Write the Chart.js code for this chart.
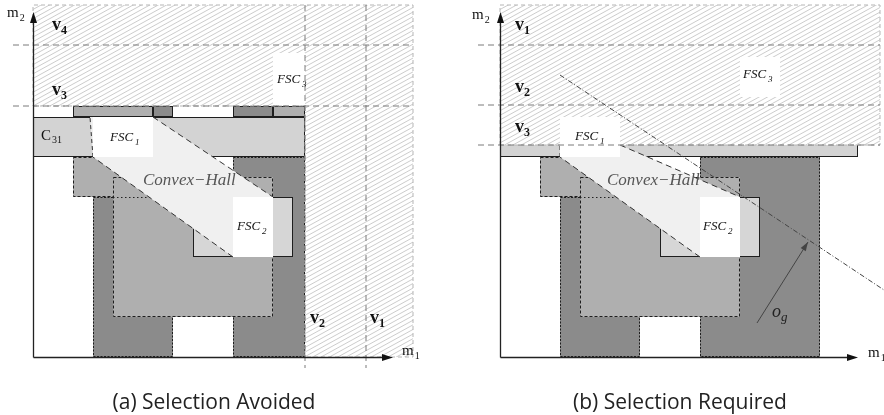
<!DOCTYPE html>
<html><head><meta charset="utf-8">
<script src="https://cdn.jsdelivr.net/npm/chart.js@4.4.0/dist/chart.umd.min.js"></script>
<style>
html,body{margin:0;padding:0;background:#fff;}
#wrap{position:relative;width:884px;height:415px;overflow:hidden;}
.panel{position:absolute;top:0;width:442px;height:415px;}
#pa{left:0}#pb{left:442px}
</style></head><body>
<div id="wrap"><div class="panel" id="pa"><canvas id="ca" width="442" height="415"></canvas></div><div class="panel" id="pb"><canvas id="cb" width="442" height="415"></canvas></div></div>
<script>
// ---------- data, in m1 / m2 units ----------
const rangeM1 = [0, 19];
const rangeM2 = [0, 17.6];

// (a) Selection Avoided
const aDarkCells  = [[3, 7, 0, 8], [10, 13.6, 0, 10]];
const aMidCells   = [[2, 6, 8, 10], [4, 12, 2, 9]];
const aLightCells = [[8, 13, 5, 8]];
const aC31Row     = [0, 13.6, 10, 12];
const aStripDark  = [[6, 7, 12, 12.55], [10, 12, 12, 12.55]];
const aStripMid   = [[2, 6, 12, 12.55], [12, 13.6, 12, 12.55]];
const aDotted     = [[4, 8], [6, 8]];
const aHull       = [[2.85, 12], [6, 12], [12, 8], [12, 5], [10, 5], [3, 10]];
const aFsc        = [[3, 6, 10, 12], [10, 12, 5, 8], [12, 13.6, 12.6, 15.2]];
const aHatch      = [[0, 12.55], [13.6, 12.55], [13.6, 0], [19, 0], [19, 17.6], [0, 17.6]];
const aLevelsM2   = [12.55, 15.6];   // v3, v4
const aLevelsM1   = [13.6, 16.65];   // v2, v1
const aAxisEnd    = [18, 17.25];

// (b) Selection Required
const bDarkCells  = [[3, 7, 0, 8], [10, 16, 0, 10]];
const bMidCells   = [[2, 6, 8, 10], [4, 12, 2, 9]];
const bLightCells = [[8, 13, 5, 8]];
const bC31Row     = [0, 17.9, 10, 12];
const bDotted     = [[4, 8], [6, 8]];
const bHull       = [[3, 10.6], [6, 10.6], [12, 8], [12, 5], [10, 5], [3, 10]];
const bFsc        = [[3, 6, 10, 12], [10, 12, 5, 8], [12, 14, 13, 15]];
const bHatch      = [[0, 10.6], [19, 10.6], [19, 17.6], [0, 17.6]];
const bLevelsM2   = [10.6, 12.6, 15.6];   // v3, v2, v1
const bObjLine    = [[3, 14.1], [19.2, 3.35]];
const bOgArrow    = [[12.85, 1.7], [15.4, 5.75]];
const bAxisEnd    = [17.9, 17.25];

// text labels: [main, subscript, m1, m2, style]
const aLabels = [
  ['v', '4', 0.95, 16.35, 'v'], ['v', '3', 0.95, 13.1, 'v'],
  ['v', '2', 13.85, 1.7, 'v'], ['v', '1', 16.85, 1.7, 'v'],
  ['C', '31', 0.4, 10.85, 'c'],
  ['FSC', '1', 3.85, 10.8, 'f'], ['FSC', '2', 10.2, 6.35, 'f'], ['FSC', '3', 12.2, 13.7, 'f'],
  ['Convex\u2212Hall', '', 5.5, 8.6, 'h'],
  ['m', '2', -1.3, 17.0, 'm'], ['m', '1', 18.45, 0.1, 'm']
];
const bLabels = [
  ['v', '1', 0.75, 16.35, 'v'], ['v', '2', 0.75, 13.25, 'v'], ['v', '3', 0.75, 11.25, 'v'],
  ['FSC', '1', 3.75, 10.85, 'f'], ['FSC', '2', 10.15, 6.35, 'f'], ['FSC', '3', 12.15, 13.95, 'f'],
  ['Convex\u2212Hall', '', 5.35, 8.6, 'h'],
  ['o', 'g', 13.6, 2.0, 'o'],
  ['m', '2', -1.4, 16.9, 'm'], ['m', '1', 18.4, 0.0, 'm']
];
const captions = ['(a) Selection Avoided', '(b) Selection Required'];
const captionAt = [[9.05, -2.6], [9.0, -2.6]];

// ---------- drawing ----------
const COLORS = {dark: '#8b8b8b', mid: '#afafaf', light: '#d6d6d6', c31: '#d3d3d3', hull: '#f0f0f0'};
const STYLES = {
  v: ['bold 18px "Liberation Serif"', 'bold 12px "Liberation Serif"', 4, 0, '#111'],
  c: ['15px "Liberation Serif"', '10px "Liberation Serif"', 3, 1, '#111'],
  f: ['italic 13px "Liberation Serif"', 'italic 9px "Liberation Serif"', 4, 2, '#111'],
  h: ['italic 17px "Liberation Serif"', '', 0, 0, '#555'],
  o: ['italic 18px "Liberation Serif"', 'italic 13px "Liberation Serif"', 4, 0, '#222'],
  m: ['15px "Liberation Serif"', '10px "Liberation Serif"', 4, 1, '#111']
};

function makePlugin(P) {
  return {
    id: 'diagram',
    afterDraw(chart) {
      const ctx = chart.ctx, xs = chart.scales.x, ys = chart.scales.y;
      const X = v => Math.round(xs.getPixelForValue(v));
      const Y = v => Math.round(ys.getPixelForValue(v));
      ctx.save();
      const cell = (r, fill, dash) => {
        const x0 = X(r[0]), x1 = X(r[1]), y0 = Y(r[3]), y1 = Y(r[2]);
        ctx.fillStyle = fill; ctx.fillRect(x0, y0, x1 - x0, y1 - y0);
        ctx.setLineDash(dash || []); ctx.strokeStyle = '#1e1e1e'; ctx.lineWidth = 1;
        ctx.strokeRect(x0 + 0.5, y0 + 0.5, x1 - x0 - 1, y1 - y0 - 1);
        ctx.setLineDash([]);
      };
      const path = pts => { ctx.beginPath(); pts.forEach((p, i) => i ? ctx.lineTo(X(p[0]), Y(p[1])) : ctx.moveTo(X(p[0]), Y(p[1]))); ctx.closePath(); };
      const seg = (p, q, color, dash, w) => {
        ctx.beginPath(); ctx.setLineDash(dash || []); ctx.strokeStyle = color; ctx.lineWidth = w || 1;
        ctx.moveTo(xs.getPixelForValue(p[0]), ys.getPixelForValue(p[1]));
        ctx.lineTo(xs.getPixelForValue(q[0]), ys.getPixelForValue(q[1])); ctx.stroke(); ctx.setLineDash([]);
      };
      P.dark.forEach(r => cell(r, COLORS.dark, [2, 1.5]));
      P.mid.forEach(r => cell(r, COLORS.mid, [3, 2]));
      P.light.forEach(r => cell(r, COLORS.light));
      cell(P.c31, COLORS.c31);
      (P.stripDark || []).forEach(r => cell(r, COLORS.dark));
      (P.stripMid || []).forEach(r => cell(r, COLORS.mid));
      if (P.dotted) seg([P.dotted[0][0], P.dotted[0][1] - 0.025], [P.dotted[1][0], P.dotted[1][1] - 0.025], '#222', [1.5, 2.5], 1);
      // convex hull
      path(P.hull); ctx.fillStyle = COLORS.hull; ctx.fill();
      const h = P.hull;
      seg(h[1], h[2], '#333', [6, 4]); seg(h[4], h[5], '#333', [6, 4]); seg(h[5], h[0], '#333', [4, 3]);
      // hatched (infeasible) region
      ctx.save(); path(P.hatch); ctx.fillStyle = '#fff'; ctx.fill(); ctx.clip();
      ctx.strokeStyle = '#c6c6c6'; ctx.lineWidth = 0.9;
      const W = chart.width;
      for (let c = 0; c < chart.height + 0.55 * W; c += 4.6) {
        ctx.beginPath(); ctx.moveTo(0, c); ctx.lineTo(W, c - 0.55 * W); ctx.stroke();
      }
      ctx.restore();
      path(P.hatch); ctx.setLineDash([4, 3]); ctx.strokeStyle = '#b5b5b5'; ctx.lineWidth = 1; ctx.stroke(); ctx.setLineDash([]);
      // feasible solution clusters
      P.fsc.forEach(r => { const x0 = X(r[0]), x1 = X(r[1]), y0 = Y(r[3]), y1 = Y(r[2]); ctx.fillStyle = '#fff'; ctx.fillRect(x0, y0, x1 - x0, y1 - y0); });
      // threshold levels
      P.levelsM2.forEach(v => seg([P.lvlFrom, v], [19, v], '#7a7a7a', [6, 4]));
      (P.levelsM1 || []).forEach(v => seg([v, 17.6], [v, -0.55], '#7a7a7a', [6, 4]));
      // objective line and arrow
      if (P.obj) seg(P.obj[0], P.obj[1], '#444', [5, 2, 1, 2], 1);
      if (P.og) {
        const a = P.og[0], b = P.og[1];
        seg(a, b, '#444', [], 1);
        const x1 = xs.getPixelForValue(b[0]), y1 = ys.getPixelForValue(b[1]);
        const x0 = xs.getPixelForValue(a[0]), y0 = ys.getPixelForValue(a[1]);
        const ang = Math.atan2(y1 - y0, x1 - x0);
        ctx.beginPath(); ctx.moveTo(x1, y1);
        ctx.lineTo(x1 - 9 * Math.cos(ang) + 3 * Math.sin(ang), y1 - 9 * Math.sin(ang) - 3 * Math.cos(ang));
        ctx.lineTo(x1 - 9 * Math.cos(ang) - 3 * Math.sin(ang), y1 - 9 * Math.sin(ang) + 3 * Math.cos(ang));
        ctx.closePath(); ctx.fillStyle = '#444'; ctx.fill();
      }
      // axes
      const ox = X(0), oy = Y(0), ex = X(P.axisEnd[0]), ey = Y(P.axisEnd[1]);
      ctx.strokeStyle = '#222'; ctx.lineWidth = 1.3; ctx.beginPath();
      ctx.moveTo(ox + 0.5, oy + 0.5); ctx.lineTo(ex - 6, oy + 0.5);
      ctx.moveTo(ox + 0.5, oy + 0.5); ctx.lineTo(ox + 0.5, ey + 6); ctx.stroke();
      ctx.fillStyle = '#111'; ctx.beginPath();
      ctx.moveTo(ex, oy + 0.5); ctx.lineTo(ex - 11, oy - 3); ctx.lineTo(ex - 11, oy + 4); ctx.closePath(); ctx.fill();
      ctx.beginPath(); ctx.moveTo(ox + 0.5, ey); ctx.lineTo(ox - 3, ey + 11); ctx.lineTo(ox + 4, ey + 11); ctx.closePath(); ctx.fill();
      // labels
      ctx.textBaseline = 'alphabetic'; ctx.textAlign = 'left';
      P.labels.forEach(([main, sub, u, v, st]) => {
        const S = STYLES[st];
        const px = xs.getPixelForValue(u), py = ys.getPixelForValue(v);
        ctx.fillStyle = S[4]; ctx.font = S[0]; ctx.fillText(main, px, py);
        if (sub) { const w = ctx.measureText(main).width; ctx.font = S[1]; ctx.fillText(sub, px + w + S[3], py + S[2]); }
      });
      ctx.font = '21px "Open Sans"'; ctx.textAlign = 'center'; ctx.fillStyle = '#222';
      ctx.fillText(P.caption, xs.getPixelForValue(P.captionAt[0]), ys.getPixelForValue(P.captionAt[1]));
      ctx.restore();
    }
  };
}

function build(canvasId, P, pad) {
  return new Chart(document.getElementById(canvasId), {
    type: 'scatter',
    data: {datasets: [{data: []}]},
    options: {
      responsive: false, animation: false, devicePixelRatio: 1,
      layout: {padding: pad},
      plugins: {legend: {display: false}, tooltip: {enabled: false}},
      scales: {
        x: {type: 'linear', display: false, min: rangeM1[0], max: rangeM1[1], title: {text: 'm1'}},
        y: {type: 'linear', display: false, min: rangeM2[0], max: rangeM2[1], title: {text: 'm2'}}
      }
    },
    plugins: [makePlugin(P)]
  });
}

build('ca', {
  dark: aDarkCells, mid: aMidCells, light: aLightCells, c31: aC31Row, dotted: aDotted,
  stripDark: aStripDark, stripMid: aStripMid, hull: aHull, fsc: aFsc, hatch: aHatch,
  levelsM2: aLevelsM2, levelsM1: aLevelsM1, lvlFrom: -1, axisEnd: aAxisEnd,
  labels: aLabels, caption: captions[0], captionAt: captionAt[0]
}, {left: 33, right: 29, top: 5, bottom: 58});

build('cb', {
  dark: bDarkCells, mid: bMidCells, light: bLightCells, c31: bC31Row, dotted: bDotted,
  hull: bHull, fsc: bFsc, hatch: bHatch,
  levelsM2: bLevelsM2, lvlFrom: -1.1, obj: bObjLine, og: bOgArrow, axisEnd: bAxisEnd,
  labels: bLabels, caption: captions[1], captionAt: captionAt[1]
}, {left: 58, right: 4, top: 5, bottom: 58});
</script>
</body></html>
